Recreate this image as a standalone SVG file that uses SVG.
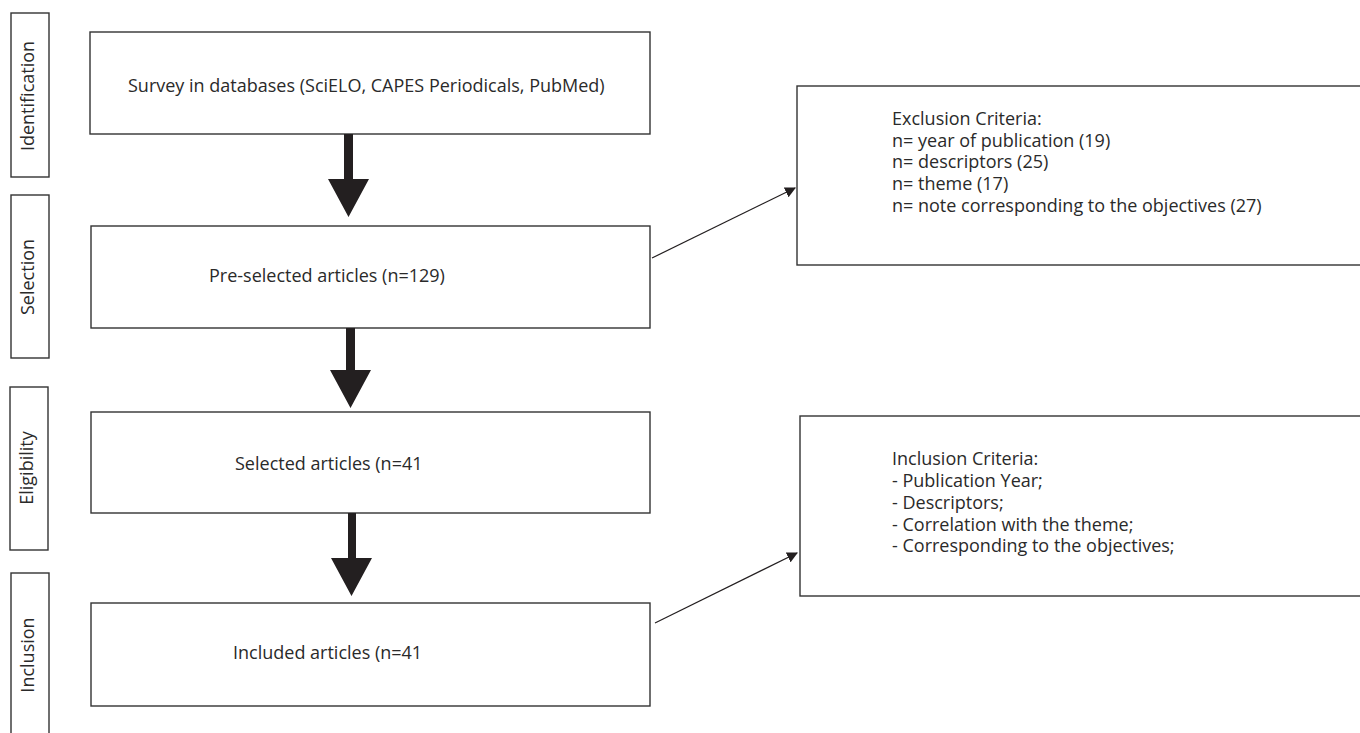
<svg xmlns="http://www.w3.org/2000/svg" width="1360" height="733" viewBox="0 0 1360 733">
<style>
.box{fill:#fff;stroke:#333;stroke-width:1.4}
.t{font-family:"Open Sans","Noto Sans","Liberation Sans",sans-serif;font-size:18px;fill:#2a2a2a}
.thick{fill:#231f20}
.thin{stroke:#231f20;stroke-width:1.2;fill:none;marker-end:url(#ah)}
</style>
<defs>
<marker id="ah" viewBox="0 0 10 10" refX="9" refY="5" markerWidth="11" markerHeight="11" markerUnits="userSpaceOnUse" orient="auto">
<path d="M0,0 L10,5 L0,10 z" fill="#231f20"/>
</marker>
</defs>
<rect width="1360" height="733" fill="#fff"/>
<g id="stage-identification">
<rect class="box" x="11" y="13" width="38" height="164"/>
<text class="t" transform="translate(34,96) rotate(-90)" text-anchor="middle">Identification</text>
</g>
<g id="stage-selection">
<rect class="box" x="11" y="195" width="38" height="163"/>
<text class="t" transform="translate(34,277) rotate(-90)" text-anchor="middle">Selection</text>
</g>
<g id="stage-eligibility">
<rect class="box" x="10" y="387" width="38" height="163"/>
<text class="t" transform="translate(33,468) rotate(-90)" text-anchor="middle">Eligibility</text>
</g>
<g id="stage-inclusion">
<rect class="box" x="11" y="573" width="38" height="175"/>
<text class="t" transform="translate(34,655) rotate(-90)" text-anchor="middle">Inclusion</text>
</g>
<g id="node-survey">
<rect class="box" x="90" y="32" width="560" height="102"/>
<text class="t" x="128" y="92">Survey in databases (SciELO, CAPES Periodicals, PubMed)</text>
</g>
<g id="node-preselected">
<rect class="box" x="91" y="226" width="559" height="102"/>
<text class="t" x="209" y="282">Pre-selected articles (n=129)</text>
</g>
<g id="node-selected">
<rect class="box" x="91" y="412" width="559" height="101"/>
<text class="t" x="235" y="470">Selected articles (n=41</text>
</g>
<g id="node-included">
<rect class="box" x="91" y="603" width="559" height="103"/>
<text class="t" x="233" y="659">Included articles (n=41</text>
</g>
<g id="node-exclusion">
<rect class="box" x="797" y="86" width="570" height="179"/>
<text class="t" x="892" y="125">Exclusion Criteria:</text>
<text class="t" x="892" y="147">n= year of publication (19)</text>
<text class="t" x="892" y="168">n= descriptors (25)</text>
<text class="t" x="892" y="190">n= theme (17)</text>
<text class="t" x="892" y="212">n= note corresponding to the objectives (27)</text>
</g>
<g id="node-inclusion-criteria">
<rect class="box" x="800" y="416" width="570" height="180"/>
<text class="t" x="892" y="465">Inclusion Criteria:</text>
<text class="t" x="892" y="487">- Publication Year;</text>
<text class="t" x="892" y="509">- Descriptors;</text>
<text class="t" x="892" y="531">- Correlation with the theme;</text>
<text class="t" x="892" y="552">- Corresponding to the objectives;</text>
</g>
<g id="connectors">
<path class="thick" d="M344,134 H353 V179 H369 L348.5,217 L328,179 H344 Z"/>
<path class="thick" d="M346,328 H355 V370 H371 L350.5,408 L330,370 H346 Z"/>
<path class="thick" d="M348,513 H356 V558 H372 L351.5,596 L331,558 H348 Z"/>
<line class="thin" x1="652" y1="258" x2="795" y2="188"/>
<line class="thin" x1="655" y1="623" x2="797" y2="553"/>
</g>
</svg>
